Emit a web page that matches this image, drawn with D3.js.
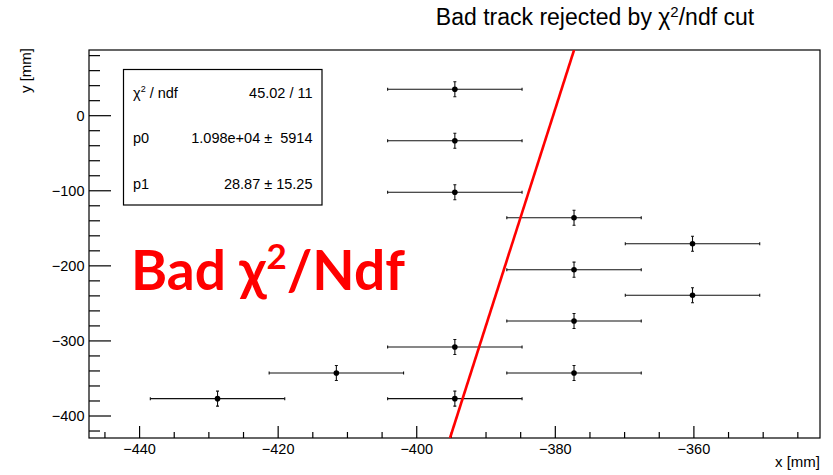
<!DOCTYPE html>
<html>
<head>
<meta charset="utf-8">
<title>Bad track rejected by chi2/ndf cut</title>
<script src="https://cdn.jsdelivr.net/npm/d3@7"></script>
<style>
  body { margin: 0; background: white; }
  svg { display: block; font-family: "Liberation Sans", Arial, sans-serif; }
  .stat { font-size: 14.5px; white-space: pre; }
</style>
</head>
<body>
<svg id="main" width="833" height="475"></svg>
<script>
// measured hits (x, y) with errors
const xVals = [-394.5, -394.5, -394.5, -377.3, -360.2, -377.3, -360.2, -377.3, -394.5, -411.6, -377.3, -428.75, -394.5];
const yVals = [35.2, -33.3, -102.0, -135.9, -170.5, -205.1, -239.2, -273.5, -308.1, -342.7, -342.7, -376.9, -376.9];
const xErrs = [9.7, 9.7, 9.7, 9.7, 9.7, 9.7, 9.7, 9.7, 9.7, 9.7, 9.7, 9.7, 9.7];
const yErrs = [10, 10, 10, 10, 10, 10, 10, 10, 10, 10, 10, 10, 10];

// linear fit y = p0 + p1*x
const p0 = 10980;
const p1 = 28.87;

const xTicks = [-440, -420, -400, -380, -360];
const yTicks = [0, -100, -200, -300, -400];
const statNames = ["p0", "p1"];
const statValues = ["45.02 / 11", "1.098e+04 \u00b1  5914", "28.87 \u00b1 15.25"];

const frame = {left: 89, top: 50, right: 820, bottom: 438};
const x = d3.scaleLinear().domain([-447.3, -341.8]).range([frame.left, frame.right]);
const y = d3.scaleLinear().domain([-429.3, 87.5]).range([frame.bottom, frame.top]);

const svg = d3.select('svg#main');

// title
const title = svg.append('text')
    .attr('x', 595).attr('y', 25)
    .attr('text-anchor', 'middle')
    .style('font-size', '23px');
title.append('tspan').text('Bad track rejected by \u03c7');
title.append('tspan').attr('dy', -8).style('font-size', '15px').text('2');
title.append('tspan').attr('dy', 8).text('/ndf cut');

// frame
svg.append('rect')
    .attr('x', frame.left).attr('y', frame.top)
    .attr('width', frame.right - frame.left).attr('height', frame.bottom - frame.top)
    .attr('fill', 'none').attr('stroke', 'black').attr('stroke-width', 1.2);

// x axis ticks (inward)
const xMinor = d3.range(-445, -340, 5);
svg.append('g').selectAll('line').data(xMinor).join('line')
    .attr('x1', d => x(d)).attr('x2', d => x(d))
    .attr('y1', frame.bottom)
    .attr('y2', d => frame.bottom - (d % 20 === 0 ? 12 : 6))
    .attr('stroke', 'black').attr('stroke-width', 1.2);
svg.append('g').selectAll('text').data(xTicks).join('text')
    .attr('x', d => x(d)).attr('y', 454)
    .attr('text-anchor', 'middle')
    .style('font-size', '14.5px')
    .text(d => d3.format('d')(d));

// y axis ticks (inward)
const yMinor = d3.range(-420, 81, 20);
svg.append('g').selectAll('line').data(yMinor).join('line')
    .attr('x1', frame.left)
    .attr('x2', d => frame.left + (d % 100 === 0 ? 22 : 11))
    .attr('y1', d => y(d)).attr('y2', d => y(d))
    .attr('stroke', 'black').attr('stroke-width', 1.2);
svg.append('g').selectAll('text').data(yTicks).join('text')
    .attr('x', 84.5).attr('y', d => y(d))
    .attr('dy', '0.35em')
    .attr('text-anchor', 'end')
    .style('font-size', '14.5px')
    .text(d => d3.format('d')(d));

// axis titles
svg.append('text')
    .attr('x', frame.right).attr('y', 467)
    .attr('text-anchor', 'end')
    .style('font-size', '15px')
    .text('x [mm]');
svg.append('text')
    .attr('transform', 'translate(31,' + 48 + ') rotate(-90)')
    .attr('text-anchor', 'end')
    .style('font-size', '15px')
    .text('y [mm]');

// data points with error bars
const points = d3.range(xVals.length).map(i => ({x: xVals[i], y: yVals[i], ex: xErrs[i], ey: yErrs[i]}));
const pts = svg.append('g').attr('stroke', '#111').attr('stroke-width', 1.1);
const g = pts.selectAll('g').data(points).join('g');
g.append('line')
    .attr('x1', d => x(d.x - d.ex)).attr('x2', d => x(d.x + d.ex))
    .attr('y1', d => y(d.y)).attr('y2', d => y(d.y));
g.append('line')
    .attr('x1', d => x(d.x)).attr('x2', d => x(d.x))
    .attr('y1', d => y(d.y - d.ey)).attr('y2', d => y(d.y + d.ey));
// end caps
g.append('path')
    .attr('d', d => {
        const xl = x(d.x - d.ex), xr = x(d.x + d.ex), yc = y(d.y);
        const xc = x(d.x), yt = y(d.y + d.ey), yb = y(d.y - d.ey);
        return 'M' + xl + ',' + (yc - 1.5) + 'V' + (yc + 1.5)
             + 'M' + xr + ',' + (yc - 1.5) + 'V' + (yc + 1.5)
             + 'M' + (xc - 1.5) + ',' + yt + 'H' + (xc + 1.5)
             + 'M' + (xc - 1.5) + ',' + yb + 'H' + (xc + 1.5);
    })
    .attr('fill', 'none');
g.append('circle')
    .attr('cx', d => x(d.x)).attr('cy', d => y(d.y))
    .attr('r', 2.8)
    .attr('fill', 'black').attr('stroke', 'none');

// fit line, clipped to frame
svg.append('clipPath').attr('id', 'clip')
    .append('rect')
    .attr('x', frame.left).attr('y', frame.top)
    .attr('width', frame.right - frame.left).attr('height', frame.bottom - frame.top);
const yTop = y.domain()[1], yBot = y.domain()[0];
const fitPts = [yBot, yTop].map(v => [(v - p0) / p1, v]);
svg.append('path')
    .attr('clip-path', 'url(#clip)')
    .attr('d', d3.line().x(d => x(d[0])).y(d => y(d[1]))(fitPts))
    .attr('stroke', '#ff0000').attr('stroke-width', 2.6).attr('fill', 'none');

// stats box
svg.append('rect')
    .attr('x', 123.5).attr('y', 69.5).attr('width', 198.5).attr('height', 135.5)
    .attr('fill', 'white').attr('stroke', 'black').attr('stroke-width', 1.2);
const rowY = [98, 143, 188.5];
const chi = svg.append('text').attr('class', 'stat').attr('x', 133).attr('y', rowY[0]);
chi.append('tspan').text('\u03c7');
chi.append('tspan').attr('dy', -6).style('font-size', '9px').text('2');
chi.append('tspan').attr('dy', 6).text(' / ndf');
svg.append('g').selectAll('text').data(statNames).join('text')
    .attr('class', 'stat')
    .attr('x', 133).attr('y', (d, i) => rowY[i + 1])
    .text(d => d);
svg.append('g').selectAll('text').data(statValues).join('text')
    .attr('class', 'stat')
    .attr('x', 312.5).attr('y', (d, i) => rowY[i])
    .attr('text-anchor', 'end')
    .text(d => d);

// annotation
const bad = svg.append('text')
    .attr('x', 131).attr('y', 290)
    .attr('fill', '#ff0000')
    .style('font-family', 'Lato, "Open Sans", sans-serif')
    .style('font-weight', 700)
    .style('font-size', '55px');
bad.append('tspan').text('Bad \u03c7');
bad.append('tspan').attr('dy', -21).style('font-size', '35px').text('2');
bad.append('tspan').attr('dy', 21).text('/Ndf');
</script>
</body>
</html>
